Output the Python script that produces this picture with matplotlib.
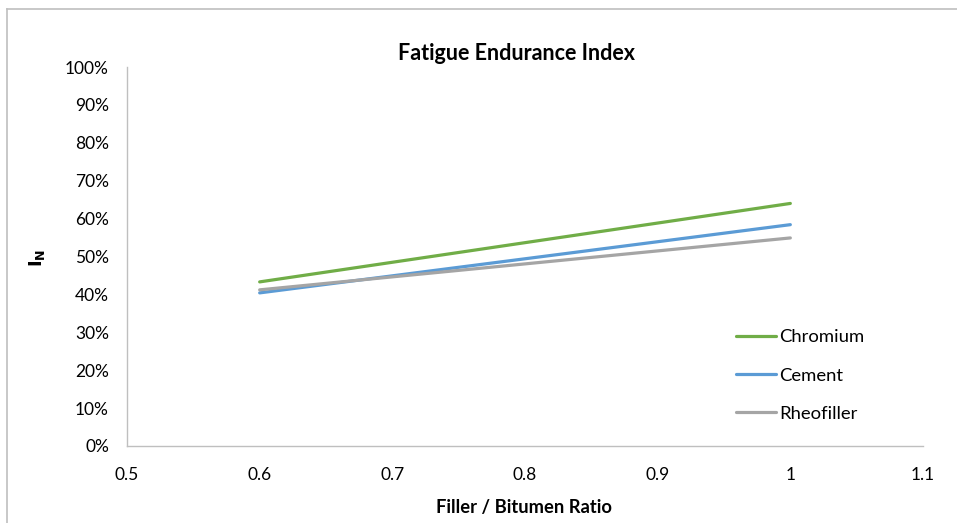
import numpy as np
import matplotlib.pyplot as plt
from matplotlib.ticker import PercentFormatter
from matplotlib.lines import Line2D

# data
ratio = [0.6, 1.0]
chromium = [0.433, 0.640]
cement = [0.404, 0.584]
rheofiller = [0.412, 0.549]

plt.rcParams['font.family'] = ['Lato', 'DejaVu Sans']

fig = plt.figure(figsize=(9.57, 5.23), dpi=100)
ax = fig.add_axes([127/957, 1-446/523, (923-127)/957, (446-67)/523])

ax.plot(ratio, chromium, color="#70AD47", lw=2.3, label="Chromium", solid_capstyle="round")
ax.plot(ratio, cement, color="#5B9BD5", lw=2.3, label="Cement", solid_capstyle="round")
ax.plot(ratio, rheofiller, color="#A5A5A5", lw=2.3, label="Rheofiller", solid_capstyle="round")

ax.set_xlim(0.5, 1.1)
ax.set_ylim(0, 1)
ax.set_xticks(np.arange(0.5, 1.11, 0.1))
ax.set_xticklabels(["0.5", "0.6", "0.7", "0.8", "0.9", "1", "1.1"])
ax.set_yticks(np.arange(0, 1.01, 0.1))
ax.yaxis.set_major_formatter(PercentFormatter(1.0, decimals=0))
ax.tick_params(axis="x", length=0, labelsize=12.5, pad=15)
ax.tick_params(axis="y", length=0, labelsize=12.5, pad=13)

for s in ["top", "right"]:
    ax.spines[s].set_visible(False)
for s in ["left", "bottom"]:
    ax.spines[s].set_color("#BFBFBF")
    ax.spines[s].set_linewidth(1)

fig.text(516/957, 1-53/523, "Fatigue Endurance Index", ha="center", va="center",
         fontsize=15.5, fontweight="bold")
fig.text(37/957, 1-258/523, r"$\mathbf{I_N}$", ha="center", va="center", rotation=90, fontsize=13)
fig.text(524/957, 1-507/523, "Filler / Bitumen Ratio", ha="center", va="center",
         fontsize=13.2, fontweight="bold")

leg = ax.legend(loc="upper left", bbox_to_anchor=((729-127)/(923-127), (446-322)/(446-67)),
                frameon=False, fontsize=13.3, handlelength=2.15, handletextpad=0.15,
                labelspacing=1.2, borderaxespad=0)

# outer chart border (top and left edges visible)
fig.add_artist(Line2D([7/957, 1], [1-9/523, 1-9/523], color="#BFBFBF", lw=1.2))
fig.add_artist(Line2D([7/957, 7/957], [0, 1-9/523], color="#BFBFBF", lw=1.2))

fig.savefig("out.png", dpi=100)
